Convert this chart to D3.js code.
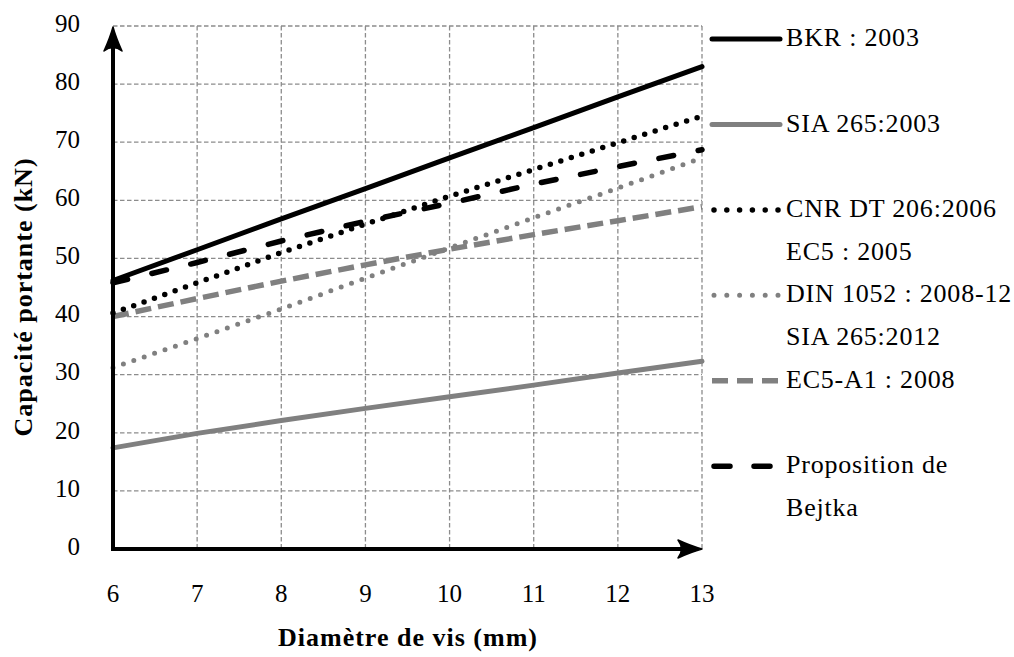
<!DOCTYPE html>
<html>
<head>
<meta charset="utf-8">
<script src="https://cdn.jsdelivr.net/npm/d3@7"></script>
<style>
  body { margin: 0; background: #fff; }
</style>
</head>
<body>
<svg id="chart" width="1014" height="657"></svg>
<script>
// diametre de vis (mm)
var diam = [6, 7, 8, 9, 10, 11, 12, 13];
var yTicks = [0, 10, 20, 30, 40, 50, 60, 70, 80, 90];

// capacite portante (kN)
var bkr2003 = [46.2, 51.5, 56.8, 62.0, 67.3, 72.5, 77.8, 83.0];
var sia2003 = [17.4, 19.9, 22.1, 24.2, 26.2, 28.2, 30.3, 32.3];
var cnr2006 = [40.6, 45.8, 51.0, 55.9, 60.7, 65.3, 69.9, 74.5];
var din2008 = [31.2, 36.2, 41.3, 46.6, 51.8, 57.0, 62.1, 67.3];
var ec5a1 = [40.0, 43.1, 46.1, 48.9, 51.6, 54.1, 56.5, 58.9];
var bejtka = [45.8, 49.3, 53.0, 56.4, 59.5, 62.8, 65.8, 68.7];

// legend rows (row index, text, series key or null)
var legendRows = [
  [0, "BKR : 2003", "bkr"],
  [2, "SIA 265:2003", "sia"],
  [4, "CNR DT 206:2006", "cnr"],
  [5, "EC5 : 2005", null],
  [6, "DIN 1052 : 2008-12", "din"],
  [7, "SIA 265:2012", null],
  [8, "EC5-A1 : 2008", "ec5"],
  [10, "Proposition de", "bej"],
  [11, "Bejtka", null]
];

var FONT = "'Liberation Serif'";
var gray = "#808080";
var styles = {
  bkr: {values: bkr2003, color: "#000", width: 5, dash: null, cap: "round"},
  sia: {values: sia2003, color: gray, width: 5, dash: null, cap: "round"},
  cnr: {values: cnr2006, color: "#000", width: 5.5, dash: "0 11", cap: "round"},
  din: {values: din2008, color: gray, width: 5, dash: "0 11", cap: "round"},
  ec5: {values: ec5a1, color: gray, width: 5.5, dash: "16 7", cap: "butt"},
  bej: {values: bejtka, color: "#000", width: 5.5, dash: "15 25", cap: "round"}
};
var drawOrder = ["sia", "din", "ec5", "cnr", "bej", "bkr"];

var svg = d3.select("#chart");

var x = d3.scaleLinear().domain([6, 13]).range([113, 702]);
var y = d3.scaleLinear().domain([0, 90]).range([549, 26]);

// grille pointillee
var grid = svg.append("g").attr("class", "grid")
    .attr("stroke", "#8c8c8c")
    .attr("stroke-width", 1.3)
    .attr("stroke-dasharray", "4.5 2.5");

grid.selectAll("line.h")
    .data(yTicks.filter(function(d) { return d > 0; }))
    .enter().append("line")
    .attr("class", "h")
    .attr("x1", x(6)).attr("x2", x(13))
    .attr("y1", function(d) { return y(d); })
    .attr("y2", function(d) { return y(d); });

grid.selectAll("line.v")
    .data(diam.slice(1))
    .enter().append("line")
    .attr("class", "v")
    .attr("x1", function(d) { return x(d); })
    .attr("x2", function(d) { return x(d); })
    .attr("y1", y(90)).attr("y2", y(0));

// courbes
var line = d3.line()
    .x(function(d, i) { return x(diam[i]); })
    .y(function(d) { return y(d); });

svg.append("g").selectAll("path")
    .data(drawOrder)
    .enter().append("path")
    .attr("d", function(k) { return line(styles[k].values); })
    .attr("fill", "none")
    .attr("stroke", function(k) { return styles[k].color; })
    .attr("stroke-width", function(k) { return styles[k].width; })
    .attr("stroke-dasharray", function(k) { return styles[k].dash; })
    .attr("stroke-linecap", function(k) { return styles[k].cap; });

// axes avec fleches
svg.append("path")
    .attr("d", "M" + x(6) + "," + (y(90) + 12) + "V" + y(0) + "H" + (x(13) - 12))
    .attr("fill", "none")
    .attr("stroke", "#000")
    .attr("stroke-width", 4)
    .attr("stroke-linejoin", "miter");

var arrow = "M0,0 Q-11,-3 -24,-9 Q-17,0 -24,9 Q-11,3 0,0 Z";
svg.append("path")
    .attr("d", arrow)
    .attr("transform", "translate(" + x(13) + "," + y(0) + ")")
    .attr("fill", "#000").attr("stroke", "#000").attr("stroke-width", 1.5)
    .attr("stroke-linejoin", "round");
svg.append("path")
    .attr("d", arrow)
    .attr("transform", "translate(" + x(6) + "," + (y(90) + 1) + ") rotate(-90)")
    .attr("fill", "#000").attr("stroke", "#000").attr("stroke-width", 1.5)
    .attr("stroke-linejoin", "round");

// etiquettes des graduations
svg.append("g").selectAll("text")
    .data(yTicks)
    .enter().append("text")
    .attr("x", 80)
    .attr("y", function(d) { return y(d) - 3; })
    .attr("dy", "0.35em")
    .attr("text-anchor", "end")
    .style("font-family", FONT)
    .style("font-size", "25px")
    .text(function(d) { return d; });

svg.append("g").selectAll("text")
    .data(diam)
    .enter().append("text")
    .attr("x", function(d) { return x(d); })
    .attr("y", 593)
    .attr("dy", "0.35em")
    .attr("text-anchor", "middle")
    .style("font-family", FONT)
    .style("font-size", "25px")
    .text(function(d) { return d; });

// titres des axes
svg.append("text")
    .attr("x", 408).attr("y", 637)
    .attr("dy", "0.35em")
    .attr("text-anchor", "middle")
    .style("font-family", FONT)
    .style("font-size", "26px")
    .style("font-weight", "bold")
    .style("letter-spacing", "1px")
    .text("Diamètre de vis (mm)");

svg.append("text")
    .attr("transform", "translate(23,297) rotate(-90)")
    .attr("dy", "0.35em")
    .attr("text-anchor", "middle")
    .style("font-family", FONT)
    .style("font-size", "26px")
    .style("font-weight", "bold")
    .style("letter-spacing", "1px")
    .text("Capacité portante (kN)");

// legende
var rowY = d3.scaleLinear().domain([0, 11]).range([37, 507]);
var lg = svg.append("g").attr("class", "legend");

var rows = lg.selectAll("g")
    .data(legendRows)
    .enter().append("g")
    .attr("transform", function(d) { return "translate(0," + rowY(d[0]) + ")"; });

rows.filter(function(d) { return d[2] !== null; })
    .append("line")
    .attr("x1", function(d) { return styles[d[2]].dash && styles[d[2]].cap === "round" ? 714 : 712; })
    .attr("x2", 780)
    .attr("y1", 2).attr("y2", 2)
    .attr("stroke", function(d) { return styles[d[2]].color; })
    .attr("stroke-width", function(d) { return styles[d[2]].width; })
    .attr("stroke-dasharray", function(d) {
      var k = d[2];
      if (k === "cnr" || k === "din") return "0 12.8";
      if (k === "ec5") return "16 9";
      if (k === "bej") return "16 24";
      return null;
    })
    .attr("stroke-linecap", function(d) { return styles[d[2]].cap; });

rows.append("text")
    .attr("x", 786)
    .attr("dy", "0.35em")
    .style("font-family", FONT)
    .style("font-size", "26px")
    .style("letter-spacing", "0.8px")
    .text(function(d) { return d[1]; });
</script>
</body>
</html>
